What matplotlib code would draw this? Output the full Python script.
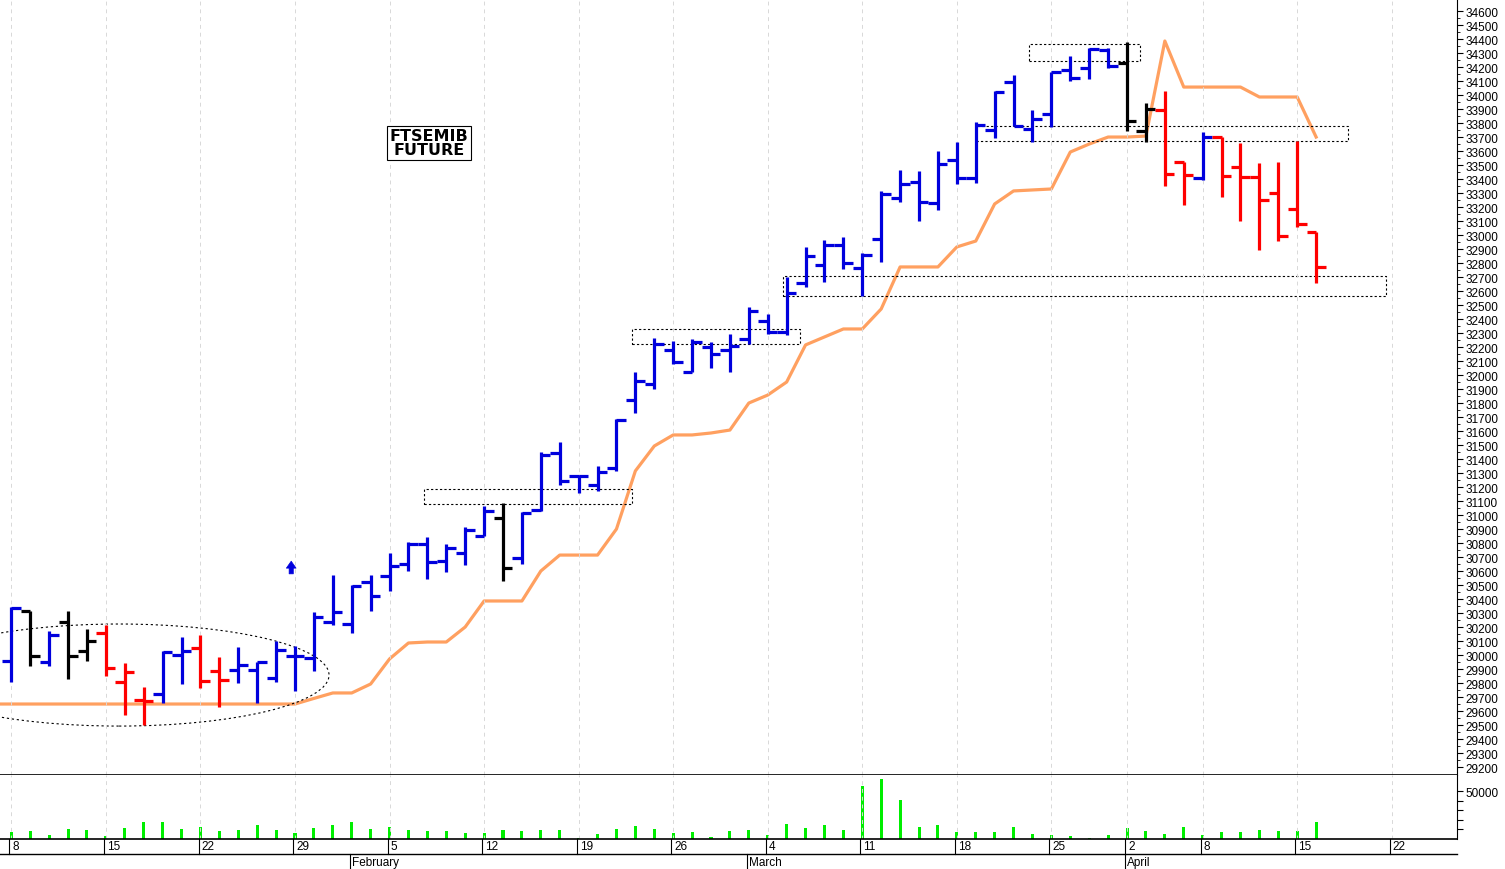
import numpy as np
import matplotlib.pyplot as plt
from matplotlib.patches import Rectangle, Ellipse
from matplotlib.transforms import blended_transform_factory as btf

plt.rcParams["font.family"] = ["Liberation Sans", "DejaVu Sans"]

# daily OHLC, trading days from 8 Jan (index 0) to 16 Apr
opens = [29960, 30313, 29952, 30234, 30031, 30157, 29810, 29681, 29722, 29999,
         30048, 29884, 29893, 29893, 29834, 29995, 29979, 30238, 30222, 30520,
         30563, 30651, 30793, 30674, 30727, 30848, 30977, 30691, 31038, 31443,
         31281, 31215, 31334, 31822, 31936, 32179, 32024, 32198, 32179, 32257,
         32386, 32307, 32658, 32786, 32929, 32762, 32972, 33265, 33377, 33229,
         33536, 33405, 33752, 34091, 33757, 33865, 34181, 34191, 34324, 34229,
         33745, 33895, 33524, 33405, 33698, 33488, 33417, 33300, 33186, 33024]
highs = [30341, 30317, 30174, 30317, 30186, 30217, 29943, 29769, 30031, 30127,
         30143, 29984, 30055, 29948, 30098, 30062, 30310, 30574, 30503, 30574,
         30729, 30805, 30841, 30793, 30912, 31065, 31086, 31020, 31453, 31524,
         31286, 31348, 31686, 32024, 32262, 32245, 32257, 32234, 32293, 32486,
         32436, 32700, 32912, 32965, 32988, 32872, 33317, 33467, 33460, 33603,
         33667, 33810, 34027, 34143, 33895, 34162, 34281, 34334, 34334, 34377,
         33943, 34027, 33524, 33738, 33698, 33657, 33512, 33524, 33674, 33024]
lows = [29805, 29920, 29924, 29829, 29960, 29852, 29572, 29500, 29657, 29793,
        29762, 29627, 29800, 29657, 29810, 29741, 29884, 30217, 30157, 30312,
        30455, 30603, 30543, 30591, 30643, 30848, 30527, 30650, 31031, 31215,
        31157, 31174, 31317, 31727, 31900, 32079, 32020, 32048, 32024, 32222,
        32293, 32286, 32627, 32667, 32758, 32567, 32810, 33234, 33102, 33181,
        33365, 33372, 33691, 33777, 33662, 33770, 34102, 34115, 34191, 33745,
        33662, 33352, 33217, 33395, 33270, 33102, 32893, 32960, 33055, 32655]
closes = [30336, 29995, 30143, 29991, 30098, 29907, 29877, 29674, 30024, 30031,
          29817, 29822, 29929, 29948, 30036, 29995, 30274, 30305, 30495, 30420,
          30634, 30793, 30662, 30762, 30893, 31031, 30620, 31012, 31429, 31245,
          31281, 31305, 31681, 31960, 32222, 32091, 32234, 32150, 32210, 32457,
          32307, 32586, 32853, 32929, 32798, 32857, 33293, 33365, 33234, 33507,
          33405, 33788, 34020, 33781, 33829, 34162, 34120, 34329, 34205, 33817,
          33900, 33436, 33429, 33698, 33424, 33417, 33250, 32991, 33079, 32770]
bar_colors = (["#0000dd", "k", "#0000dd", "k", "k"] + ["#ff0000"] * 3 + ["#0000dd"] * 2
              + ["#ff0000"] * 2 + ["#0000dd"] * 14 + ["k"] + ["#0000dd"] * 32
              + ["k"] * 2 + ["#ff0000"] * 2 + ["#0000dd"] + ["#ff0000"] * 6)
# trend line starts one session earlier (5 Jan, index -1)
trend = [29650] * 17 + [29690, 29729, 29729, 29793, 29972, 30086, 30093, 30093, 30200, 30386,
         30386, 30386, 30600, 30714, 30714, 30714, 30900, 31315, 31493, 31572,
         31572, 31586, 31607, 31800, 31857, 31950, 32215, 32272, 32329, 32329,
         32472, 32772, 32772, 32772, 32915, 32957, 33222, 33315, 33322, 33329,
         33593, 33650, 33700, 33700, 33707, 34386, 34057, 34057, 34057, 34057,
         33986, 33986, 33986, 33700]
volume = [7600, 8300, 4200, 10400, 9400, 3500, 11100, 17400, 18000, 10400,
          12800, 8300, 9400, 14900, 9400, 5900, 11100, 14600, 17400, 10400,
          12100, 9400, 8300, 8300, 6200, 6200, 9400, 8300, 9400, 9400,
          1000, 5200, 10400, 13200, 10400, 6200, 7300, 2100, 8300, 9400,
          4200, 15600, 11100, 14600, 9700, 54800, 62500, 40900, 12100, 14600,
          6900, 6900, 6900, 12100, 4900, 4200, 2800, 1000, 4200, 11800,
          8300, 4900, 12100, 4200, 6900, 6900, 9700, 8300, 8300, 18000]
tick_idx = [0, 5, 10, 15, 20, 25, 30, 35, 40, 45, 50, 55, 59, 63, 68, 73]
tick_lab = ["8", "15", "22", "29", "5", "12", "19", "26", "4", "11", "18", "25", "2", "8", "15", "22"]
months = [("February", 18), ("March", 39), ("April", 59)]
# (i0, i1, price_lo, price_hi)
boxes = [(21.8, 32.8, 31079, 31186), (32.8, 41.7, 32222, 32329), (40.8, 72.7, 32565, 32707),
         (51.0, 70.7, 33672, 33779), (53.8, 59.7, 34243, 34365)]

W, H = 1505, 870
fig = plt.figure(figsize=(W / 100, H / 100), dpi=100)
axw = 1457 / W
ax = fig.add_axes([0, 1 - 776 / H, axw, 776 / H])
av = fig.add_axes([0, 30 / H, axw, 64 / H])
xl = (-0.6, 76.45)

n = len(opens)
x = np.arange(n)
for i in range(n):
    c = bar_colors[i]
    ax.plot([i, i], [lows[i], highs[i]], color=c, lw=2.3, solid_capstyle="butt")
    ax.plot([i - 0.5, i], [opens[i], opens[i]], color=c, lw=2.3, solid_capstyle="butt")
    ax.plot([i, i + 0.5], [closes[i], closes[i]], color=c, lw=2.3, solid_capstyle="butt")
ax.plot(np.arange(-1, n), trend, color="#ffa060", lw=2.3, zorder=1)

for a, b, lo, hi in boxes:
    ax.add_patch(Rectangle((a, lo), b - a, hi - lo, fill=False, ls=(0, (2, 2)), lw=0.8, ec="k"))
ax.add_patch(Ellipse((5.7, 29857), 22.2, 729, fill=False, ls=(0, (2, 2.5)), lw=0.8, ec="k"))
ax.annotate("", xy=(14.8, 30690), xytext=(14.8, 30560),
            arrowprops=dict(arrowstyle="simple,head_width=0.7,head_length=0.5,tail_width=0.3",
                            fc="#0000dd", ec="#0000dd", lw=0.5))
ax.text(22.1, 33660, "FTSEMIB\nFUTURE", ha="center", va="center", fontsize=11.5, fontweight="bold",
        family="DejaVu Sans", linespacing=0.95,
        bbox=dict(boxstyle="square,pad=0.15", fc="white", ec="k", lw=0.8))

ax.set_xlim(*xl)
ax.set_ylim(29143, 34686)
ax.yaxis.tick_right()
ax.set_yticks(np.arange(29200, 34601, 100))
ax.set_yticks(np.arange(29250, 34600, 100), minor=True)
ax.tick_params(axis="y", labelsize=8.5, length=4, pad=2)
ax.tick_params(axis="y", which="minor", length=2)
ax.set_xticks(tick_idx)
ax.tick_params(axis="x", bottom=False, labelbottom=False)
ax.grid(axis="x", color="#d8d8d8", ls=(0, (4, 4)), lw=0.7)
for s in ["top", "left"]:
    ax.spines[s].set_visible(False)
ax.spines["bottom"].set_linewidth(1.2)

av.bar(x, volume, width=0.16, color="#00ee00")
av.set_xlim(*xl)
av.set_ylim(0, 66700)
av.yaxis.tick_right()
av.set_yticks([10000, 20000, 30000, 40000, 50000])
av.set_yticklabels(["", "", "", "", "50000"])
av.tick_params(axis="y", labelsize=8.5, length=4, pad=2)
av.set_xticks(tick_idx)
av.tick_params(axis="x", bottom=False, labelbottom=False)
av.grid(axis="x", color="#d8d8d8", ls=(0, (4, 4)), lw=0.7)
for s in ["top", "left"]:
    av.spines[s].set_visible(False)
av.spines["bottom"].set_linewidth(1.2)

tr = btf(av.transData, av.transAxes)
strip = 15 / 64
for i, lab in zip(tick_idx, tick_lab):
    av.plot([i - 0.1, i - 0.1], [0, -strip], color="k", lw=0.8, transform=tr, clip_on=False)
    av.text(i + 0.05, -strip / 2, lab, transform=tr, ha="left", va="center", fontsize=8.5)
av.plot(list(xl), [-strip, -strip], color="k", lw=1, transform=tr, clip_on=False)
for lab, i in months:
    av.plot([i - 0.1, i - 0.1], [-strip, -2 * strip], color="k", lw=0.8, transform=tr, clip_on=False)
    av.text(i, -1.55 * strip, lab, transform=tr, ha="left", va="center", fontsize=8.5)

fig.savefig("out.png", dpi=100)
